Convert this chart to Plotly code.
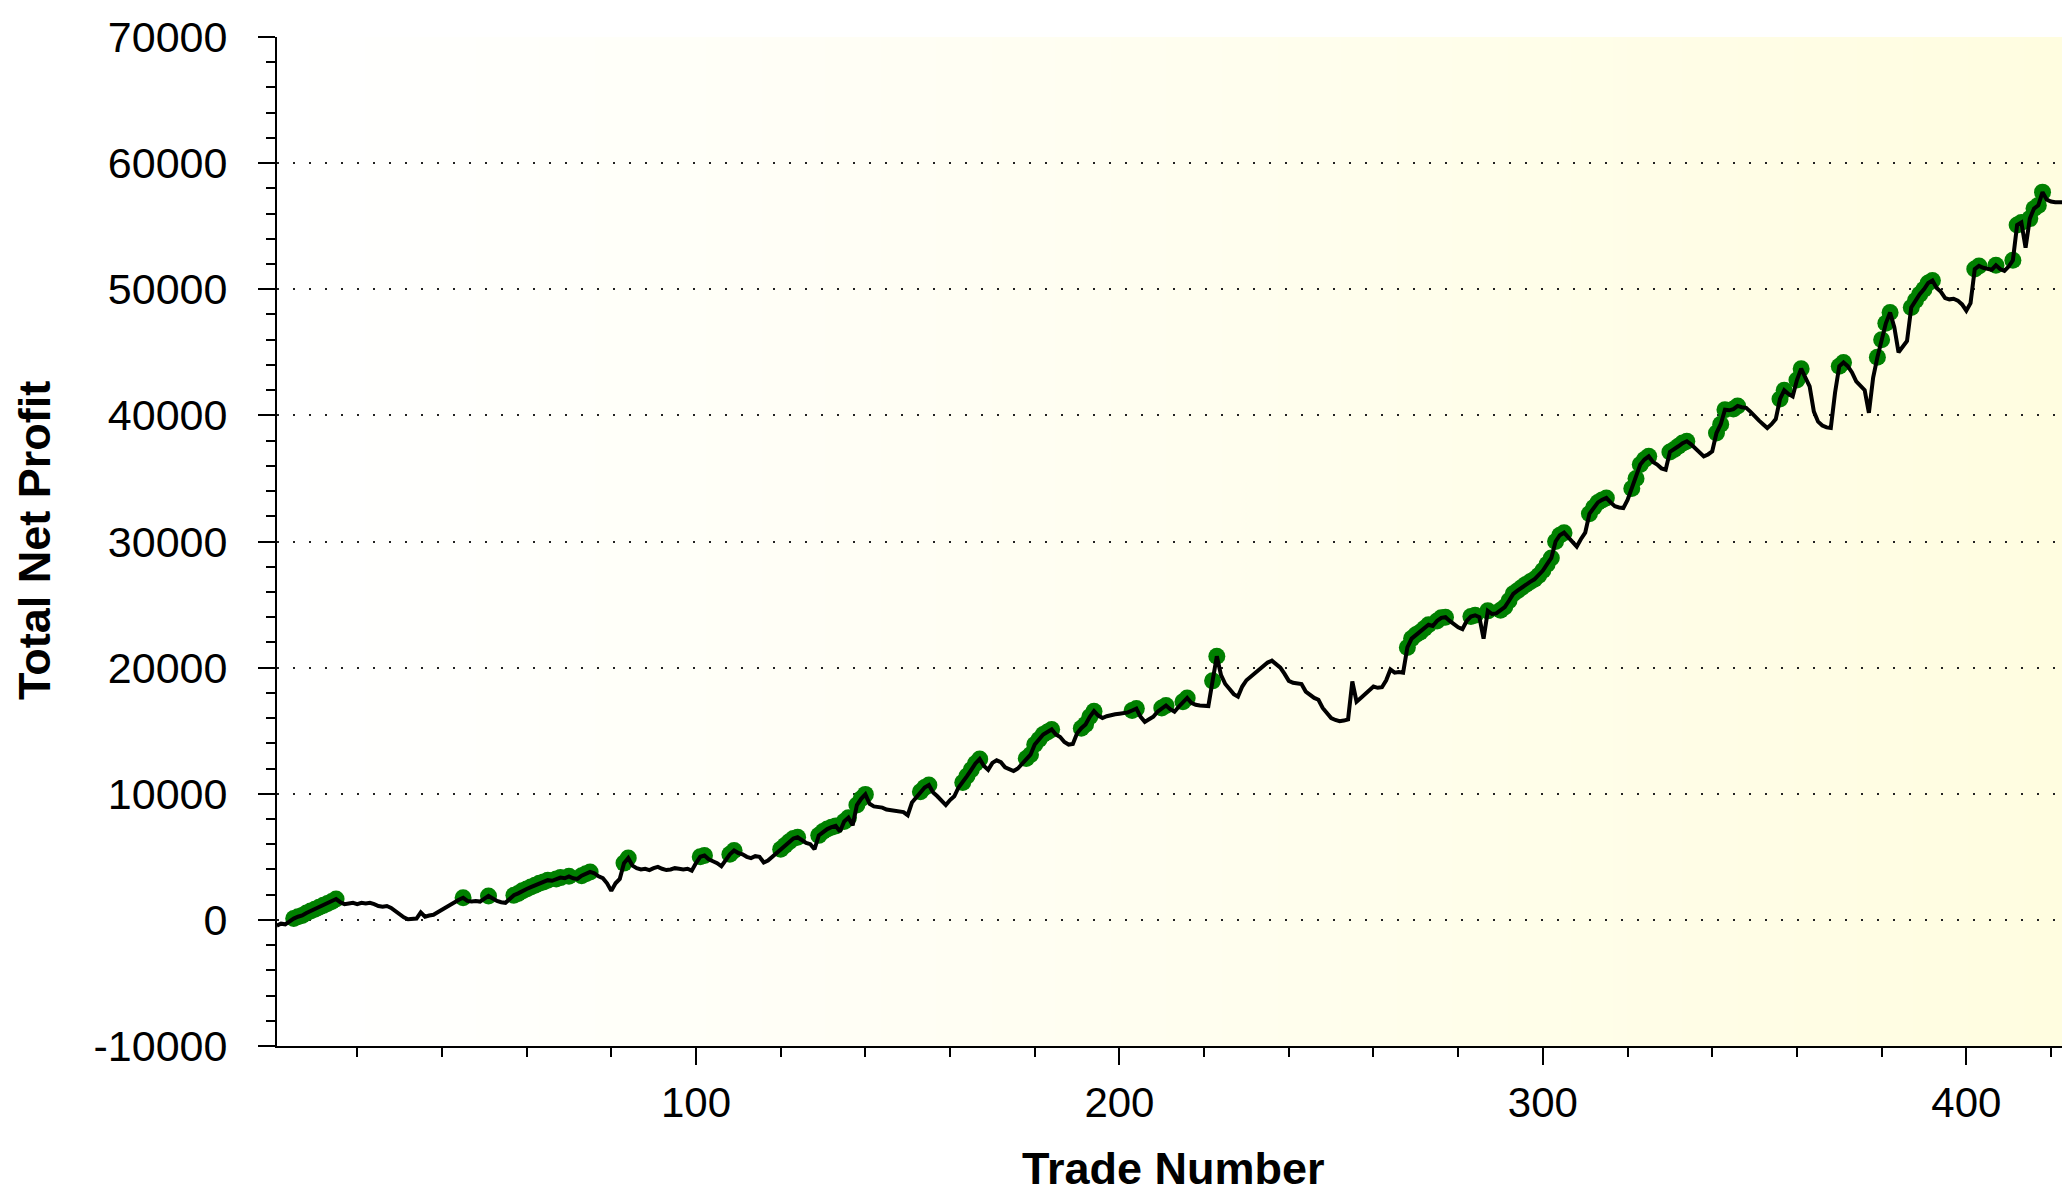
import zlib, struct, base64
import numpy as np
import plotly.graph_objects as go

# ---------------- data ----------------
trade_number = list(range(1, 424))
net_profit = [
    -450, -300, -350, -100, 100, 250, 350, 550, 700, 850,
    1000, 1150, 1300, 1450, 1650, 1400, 1250, 1300, 1350, 1250,
    1350, 1300, 1350, 1250, 1100, 1050, 1100, 950, 700, 450,
    200, 50, 50, 100, 600, 250, 350, 400, 600, 800,
    1000, 1250, 1450, 1600, 1750, 1500, 1450, 1500, 1450, 1650,
    1900, 1700, 1500, 1400, 1350, 1650, 1950, 2100, 2300, 2450,
    2600, 2750, 2900, 3000, 3150, 3100, 3250, 3350, 3300, 3450,
    3300, 3250, 3500, 3650, 3800, 3700, 3450, 3300, 2900, 2300,
    2900, 3250, 4500, 4900, 4300, 4100, 4000, 4050, 3950, 4100,
    4200, 4050, 3950, 4000, 4100, 4050, 4000, 4050, 3900, 4500,
    5000, 5100, 4800, 4650, 4500, 4250, 4700, 5200, 5500, 5300,
    5200, 5000, 4900, 5050, 5000, 4550, 4700, 5000, 5300, 5600,
    5900, 6200, 6450, 6550, 6300, 6100, 6000, 5600, 6700, 7000,
    7200, 7350, 7450, 7000, 7800, 8100, 7500, 9100, 9600, 9950,
    9200, 9000, 8950, 8900, 8750, 8700, 8650, 8600, 8550, 8300,
    9300, 9700, 10150, 10500, 10700, 10100, 9800, 9400, 9100, 9500,
    9800, 10500, 10900, 11400, 11900, 12400, 12750, 12200, 11900, 12450,
    12650, 12500, 12100, 11950, 11800, 12000, 12400, 12800, 13100, 13900,
    14300, 14700, 14900, 15100, 14700, 14500, 14100, 13900, 13950, 14800,
    15200, 15500, 16100, 16550, 16200, 16000, 16150, 16250, 16300, 16350,
    16400, 16450, 16600, 16750, 16100, 15700, 15900, 16100, 16500, 16800,
    17000, 16700, 16500, 16900, 17300, 17600, 17200, 17050, 17000, 16950,
    16950, 18950, 20900, 19400, 18700, 18300, 17900, 17700, 18500, 19000,
    19300, 19600, 19900, 20100, 20400, 20550, 20300, 20000, 19500, 18950,
    18800, 18750, 18700, 18100, 17850, 17600, 17450, 16800, 16400, 16000,
    15850, 15750, 15800, 15900, 18900, 17300, 17600, 17900, 18300, 18500,
    18400, 18450, 19000, 19850, 19600, 19650, 19600, 21600, 22300, 22600,
    22800, 23100, 23400, 23300, 23700, 23950, 24000, 23700, 23450, 23200,
    23050, 23700, 24050, 24150, 24000, 22300, 24500, 24250, 24300, 24550,
    24800, 25300, 25850, 26100, 26350, 26600, 26800, 27000, 27300, 27700,
    28200, 28700, 30000, 30500, 30700, 30300, 29900, 29600, 30200, 30700,
    32200, 32700, 33100, 33300, 33450, 33100, 32800, 32700, 32650, 33300,
    34200, 35000, 36100, 36500, 36750, 36300, 36100, 35800, 35700, 37100,
    37300, 37550, 37800, 37950, 37700, 37400, 37000, 36750, 36900, 37150,
    38600, 39300, 40450, 40400, 40500, 40750, 40650, 40600, 40300, 39900,
    39600, 39300, 39000, 39300, 39700, 41300, 42000, 41700, 41500, 42800,
    43700, 43000, 42300, 40300, 39500, 39200, 39050, 39000, 41800, 43900,
    44200, 43900, 43400, 42700, 42300, 42000, 40200, 43000, 44600, 46000,
    47300, 48150, 47000, 45000, 45400, 45900, 48550, 49100, 49600, 50000,
    50500, 50700, 50100, 49800, 49300, 49200, 49250, 49100, 48800, 48300,
    48900, 51600, 51850, 51700, 51600, 51550, 51900, 51600, 51450, 51800,
    52300, 55100, 55300, 53300, 55600, 56400, 56650, 57700, 57100, 56950,
    56900, 56900, 56900,
]
y_tick_values = [-10000, 0, 10000, 20000, 30000, 40000, 50000, 60000, 70000]
y_tick_labels = ["-10000", "0", "10000", "20000", "30000", "40000", "50000", "60000", "70000"]
x_tick_values = [100, 200, 300, 400]
x_tick_labels = ["100", "200", "300", "400"]
x_title = "Trade Number"
y_title = "Total Net Profit"

# ---------------- derived: new equity highs ----------------
vals = np.array(net_profit, dtype=float)
prev_max = np.concatenate([[0.0], np.maximum.accumulate(vals)[:-1]])
prev_max = np.maximum(prev_max, 0.0)
is_high = vals > prev_max
hx = [t for t, h in zip(trade_number, is_high) if h]
hy = [v for v, h in zip(net_profit, is_high) if h]

# ---------------- background gradient image ----------------
def png_gradient(c0, c1, n=256, h=2):
    row = bytearray([0])
    for i in range(n):
        f = i / (n - 1)
        row += bytes(int(round(c0[k] + (c1[k] - c0[k]) * f)) for k in range(3))
    raw = bytes(row) * h

    def chunk(t, d):
        return struct.pack('>I', len(d)) + t + d + struct.pack('>I', zlib.crc32(t + d) & 0xffffffff)

    ihdr = struct.pack('>IIBBBBB', n, h, 8, 2, 0, 0, 0)
    png = (b'\x89PNG\r\n\x1a\n' + chunk(b'IHDR', ihdr) +
           chunk(b'IDAT', zlib.compress(raw)) + chunk(b'IEND', b''))
    return 'data:image/png;base64,' + base64.b64encode(png).decode()

bg_src = png_gradient((255, 255, 255), (255, 253, 224))

FONT = "Arial, 'Liberation Sans', sans-serif"
XR = [1.05, 422.6]
YR = [-10000, 70000]

fig = go.Figure()
fig.add_trace(go.Scatter(
    x=hx, y=hy, mode='markers',
    marker=dict(color='#008000', size=17, line=dict(width=0)),
    showlegend=False, hoverinfo='skip'))
fig.add_trace(go.Scatter(
    x=trade_number, y=net_profit, mode='lines',
    line=dict(color='black', width=4),
    showlegend=False))

common_tick = dict(tickwidth=2, tickcolor='black')

fig.update_layout(
    width=2062, height=1195,
    margin=dict(l=277, r=0, t=37, b=149, pad=0),
    paper_bgcolor='white',
    plot_bgcolor='rgba(0,0,0,0)',
    images=[dict(source=bg_src, xref='paper', yref='paper', x=0, y=1,
                 sizex=1, sizey=1, sizing='stretch', layer='below',
                 xanchor='left', yanchor='top')],
    xaxis=dict(
        range=XR, tickmode='array', tickvals=x_tick_values, ticktext=x_tick_labels,
        ticks='outside', ticklen=17, **common_tick,
        minor=dict(ticks='outside', ticklen=9, tickwidth=2, tickcolor='black',
                   tickmode='linear', tick0=0, dtick=20, showgrid=False),
        showline=True, linecolor='black', linewidth=2,
        showgrid=False, zeroline=False,
        tickfont=dict(family=FONT, size=42, color='black'),
        ticklabelstandoff=2,
    ),
    xaxis2=dict(
        range=XR, overlaying='x', anchor='y', side='bottom',
        tickmode='array', tickvals=x_tick_values,
        ticks='inside', ticklen=17, **common_tick,
        minor=dict(ticks='inside', ticklen=9, tickwidth=2, tickcolor='black',
                   tickmode='linear', tick0=0, dtick=20, showgrid=False),
        mirror='allticks', showline=True, linecolor='black', linewidth=2,
        showgrid=False, zeroline=False, showticklabels=False,
    ),
    yaxis=dict(
        range=YR, tickmode='array', tickvals=y_tick_values, ticktext=y_tick_labels,
        ticks='outside', ticklen=17, **common_tick,
        minor=dict(ticks='outside', ticklen=9, tickwidth=2, tickcolor='black',
                   tickmode='linear', tick0=0, dtick=2000, showgrid=False),
        showline=True, linecolor='black', linewidth=2,
        showgrid=True, gridcolor='#222222', gridwidth=2, griddash='2px,14px',
        zeroline=False,
        tickfont=dict(family=FONT, size=43, color='black'),
        ticklabelstandoff=22,
    ),
    yaxis2=dict(
        range=YR, overlaying='y', anchor='x', side='left',
        tickmode='array', tickvals=y_tick_values,
        ticks='inside', ticklen=17, **common_tick,
        minor=dict(ticks='inside', ticklen=9, tickwidth=2, tickcolor='black',
                   tickmode='linear', tick0=0, dtick=2000, showgrid=False),
        showline=False, showgrid=False, zeroline=False, showticklabels=False,
    ),
    yaxis3=dict(
        range=YR, overlaying='y', anchor='x', side='right',
        tickmode='array', tickvals=y_tick_values,
        ticks='inside', ticklen=10, **common_tick,
        minor=dict(ticks='inside', ticklen=3, tickwidth=2, tickcolor='black',
                   tickmode='linear', tick0=0, dtick=2000, showgrid=False),
        showline=False, showgrid=False, zeroline=False, showticklabels=False,
    ),
    annotations=[
        dict(text=f"<b>{x_title}</b>", xref='paper', yref='paper',
             x=0.502, y=-0.1210, xanchor='center', yanchor='middle',
             showarrow=False, font=dict(family=FONT, size=45, color='black')),
        dict(text=f"<b>{y_title}</b>", xref='paper', yref='paper',
             x=-0.1356, y=0.5015, xanchor='center', yanchor='middle',
             textangle=-90, showarrow=False,
             font=dict(family=FONT, size=45, color='black')),
    ],
)

fig.write_html(
    "out.html",
    config={"displayModeBar": False},
    post_script="document.body.style.margin='0px';document.body.style.overflow='hidden';",
)
